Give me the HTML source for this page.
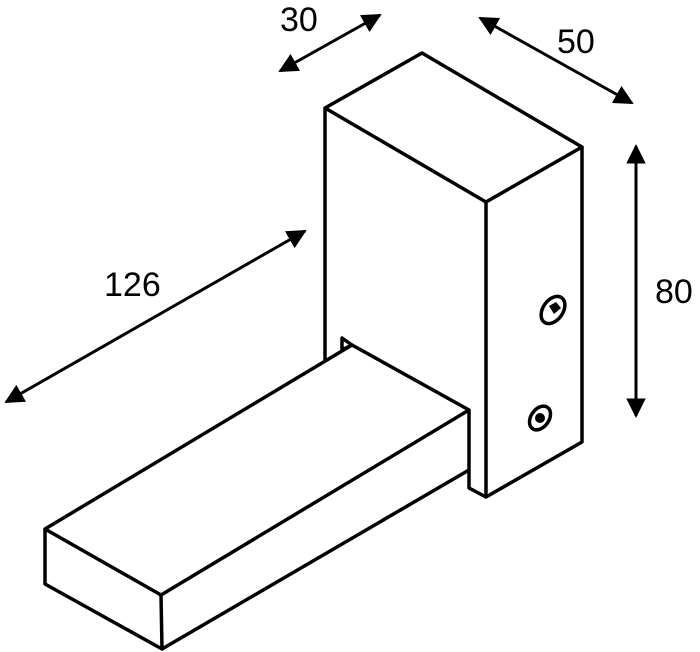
<!DOCTYPE html>
<html><head><style>body{margin:0;background:#fff}svg{display:block}</style></head><body>
<svg width="700" height="652" viewBox="0 0 700 652" xmlns="http://www.w3.org/2000/svg">
<defs><marker id="a" viewBox="0 0 10 10" refX="9" refY="5" markerWidth="6.5" markerHeight="6.5" orient="auto-start-reverse"><path d="M0,0 L10,5 L0,10 z" fill="#000"/></marker></defs>
<g fill="none" stroke="#000" stroke-width="3.5" stroke-linejoin="round">
<path d="M325,362 L325,108 L422,53 L582,147 L486,202"/>
<path d="M325,108 L486,202"/>
<path d="M486,202 L486,497 L582,442 L582,147"/>
<path d="M45,529 L352,345 L469,410 L161,595 Z"/>
<path d="M45,529 L45,584 L162,649 L161,595"/>
<path d="M162,649 L469,470"/>
<path d="M469,410 L469,488 L486,497"/>
<path d="M342,338 L342,350 L352,345 Z"/>
<ellipse cx="553" cy="310" rx="10" ry="15" transform="rotate(35 553 310)" stroke-width="3.5"/>
<ellipse cx="540" cy="418" rx="9" ry="13" transform="rotate(35 540 418)" stroke-width="3.5"/>
</g>
<path d="M549,306 l7,-4 l5,6 l-7,6z" fill="#000"/>
<circle cx="540" cy="418" r="5" fill="#000"/>
<g stroke="#000" stroke-width="3" marker-start="url(#a)" marker-end="url(#a)">
<line x1="280" y1="71" x2="380" y2="15"/>
<line x1="480" y1="18" x2="632" y2="103"/>
<line x1="636" y1="146" x2="636" y2="416"/>
<line x1="6" y1="402" x2="305" y2="231"/>
</g>
<g font-family="Liberation Sans, sans-serif" font-size="34" fill="#000">
<text x="280" y="31">30</text>
<text x="557" y="53">50</text>
<text x="655" y="303">80</text>
<text x="104" y="296">126</text>
</g>
</svg>
</body></html>
